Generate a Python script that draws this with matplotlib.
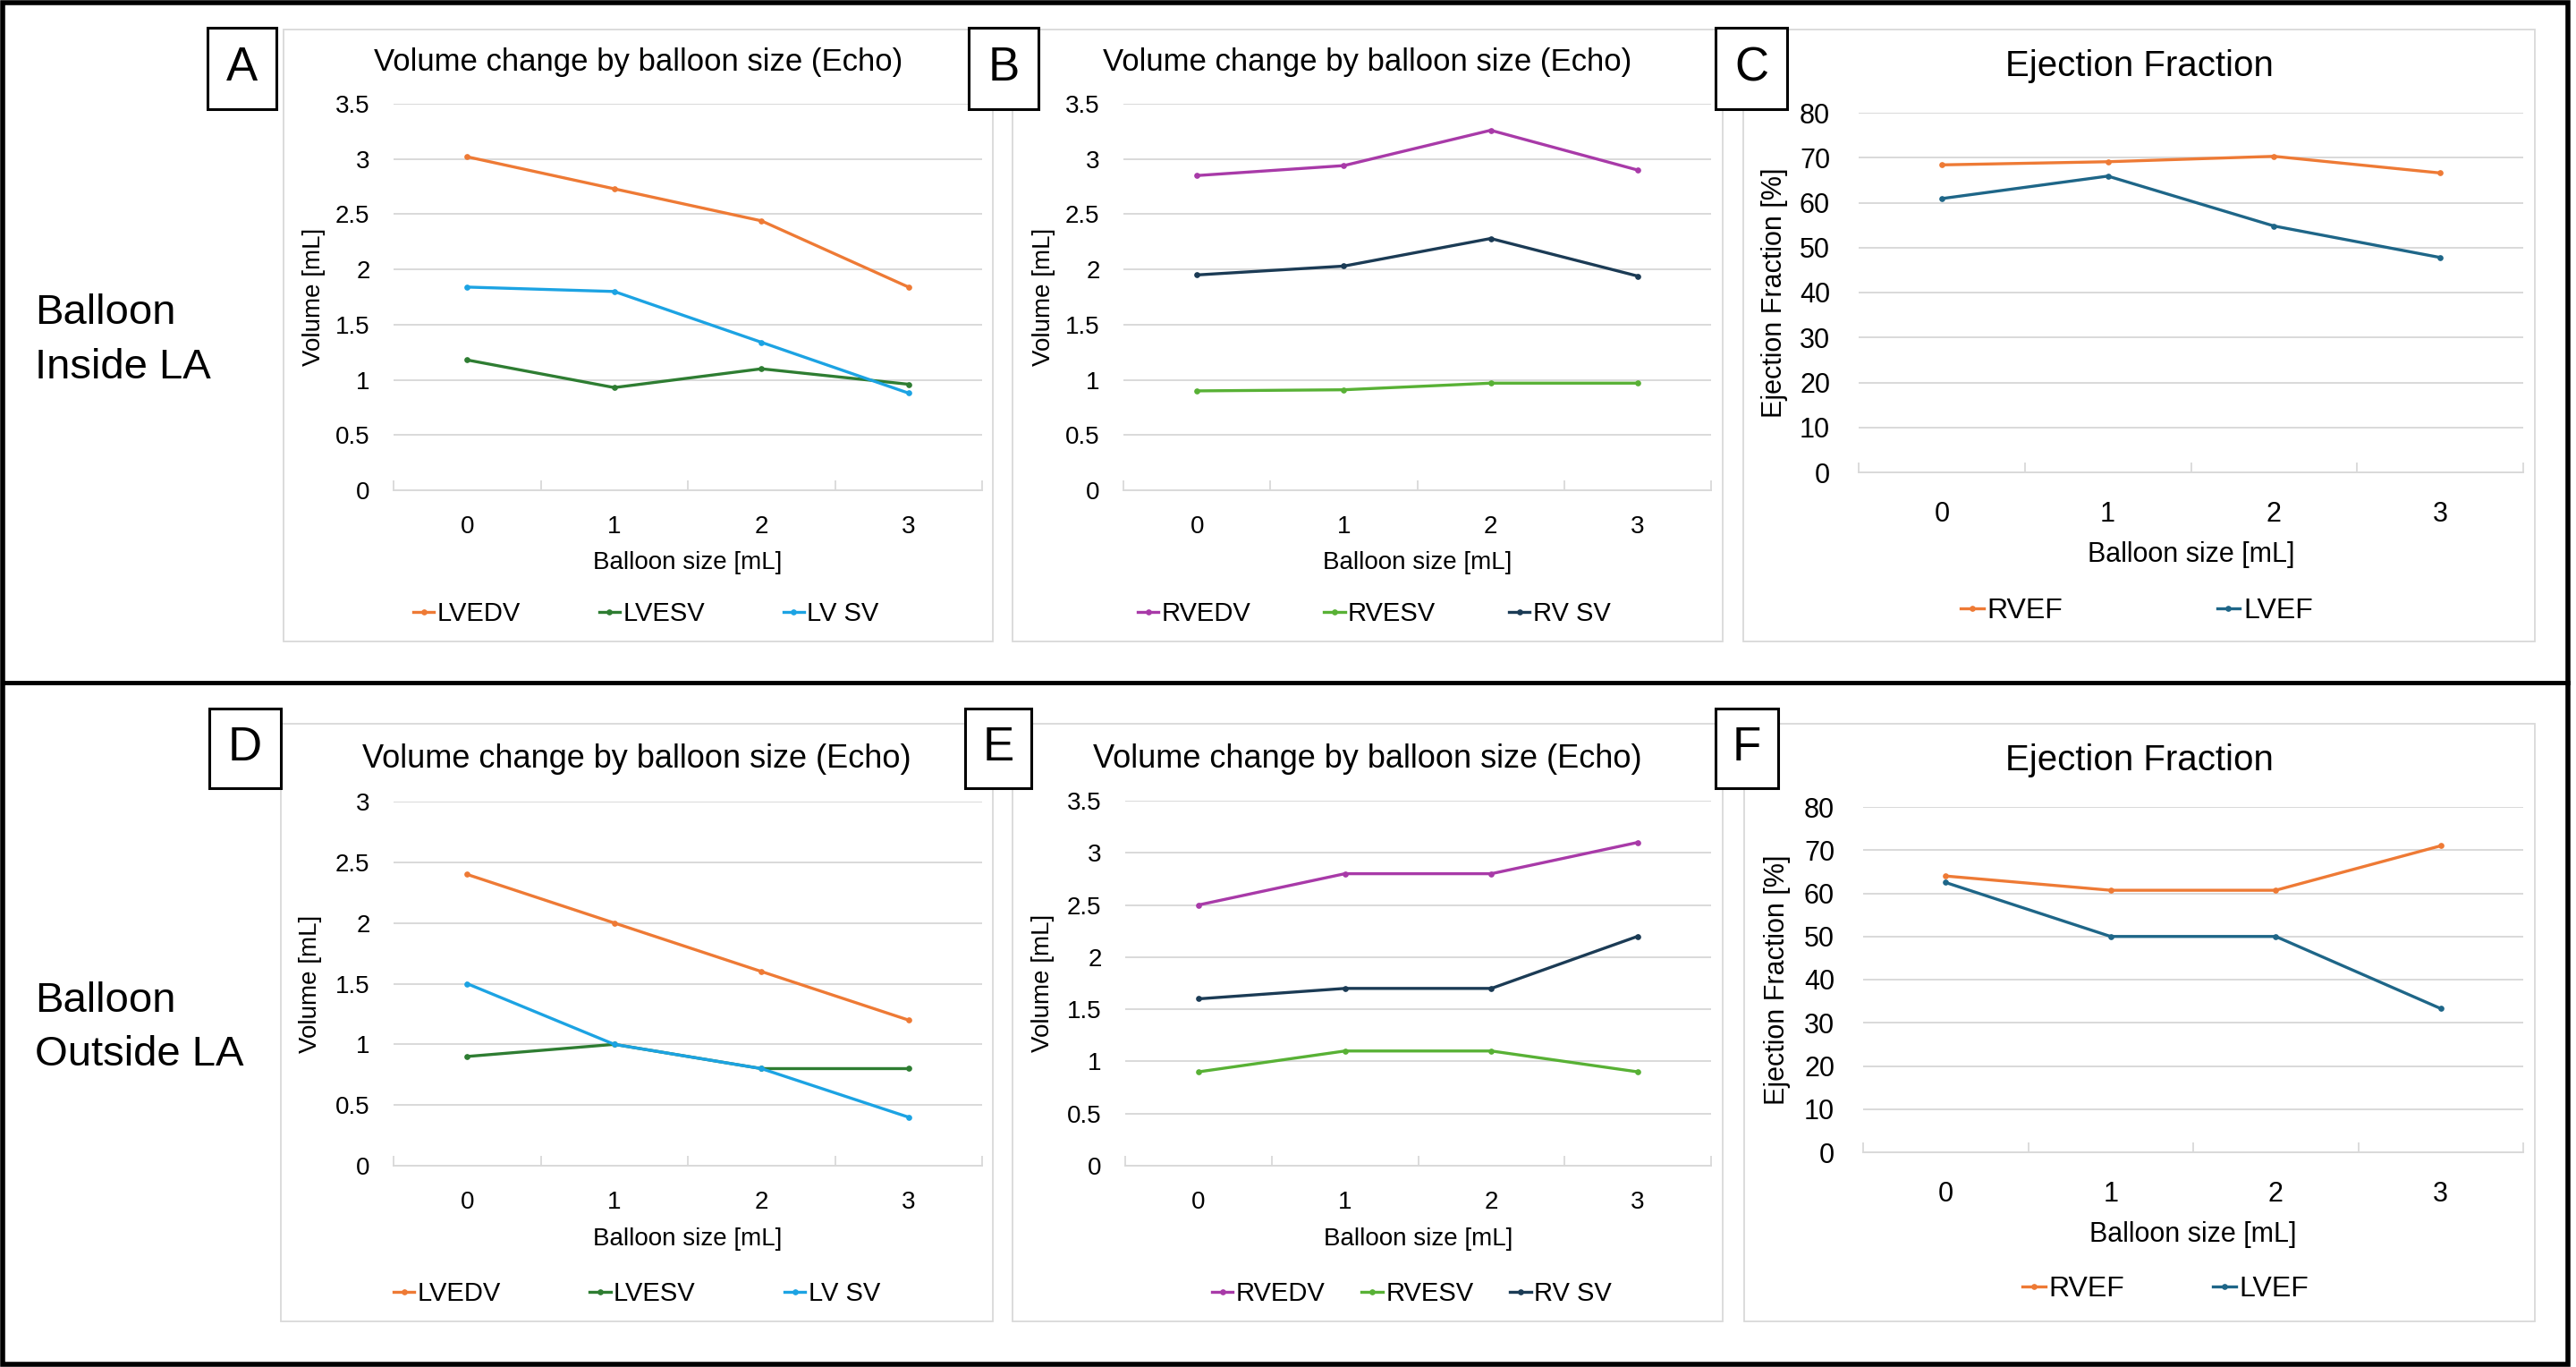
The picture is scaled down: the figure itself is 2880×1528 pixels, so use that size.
"""
Echo volumes and ejection fraction by balloon size, balloon inside / outside LA.
"""

import matplotlib.pyplot as plt
from matplotlib.patches import Rectangle
from matplotlib.lines import Line2D
import numpy as np

plt.rcParams['font.family'] = ['Liberation Sans', 'DejaVu Sans']

W, H = 2880, 1528

balloon_sizes = [0, 1, 2, 3]

# Balloon inside LA
a_lvedv = [3.02, 2.73, 2.44, 1.84]
a_lvesv = [1.18, 0.93, 1.10, 0.96]
a_lvsv = [1.84, 1.80, 1.34, 0.88]
b_rvedv = [2.85, 2.94, 3.26, 2.90]
b_rvesv = [0.90, 0.91, 0.97, 0.97]
b_rvsv = [1.95, 2.03, 2.28, 1.94]
c_rvef = [68.4, 69.1, 70.3, 66.6]
c_lvef = [60.9, 65.9, 54.8, 47.8]

# Balloon outside LA
d_lvedv = [2.4, 2.0, 1.6, 1.2]
d_lvesv = [0.9, 1.0, 0.8, 0.8]
d_lvsv = [1.5, 1.0, 0.8, 0.4]
e_rvedv = [2.5, 2.8, 2.8, 3.1]
e_rvesv = [0.9, 1.1, 1.1, 0.9]
e_rvsv = [1.6, 1.7, 1.7, 2.2]
f_rvef = [64.0, 60.7, 60.7, 71.0]
f_lvef = [62.5, 50.0, 50.0, 33.3]

ORANGE = '#EE7A35'
DKGREEN = '#2E7D32'
SKY = '#1CA3E3'
PURPLE = '#A83AA8'
GREEN = '#58B135'
NAVY = '#1B3B55'
TEAL = '#1E6688'
GRID = '#d9d9d9'

VOL_TITLE = 'Volume change by balloon size (Echo)'
EF_TITLE = 'Ejection Fraction'


def fx(x):
    return x / W


def fy(y):
    return 1 - y / H


fig = plt.figure(figsize=(W / 100, H / 100), dpi=100)


def rect(x0, y0, x1, y1, **kw):
    fig.add_artist(Rectangle((fx(x0), fy(y1)), (x1 - x0) / W, (y1 - y0) / H,
                             transform=fig.transFigure, **kw))


def panel(frame, plot, letter_box, letter, title, title_fs, title_base,
          series, ymax, ystep, ylabel, ylabel_x, xlabel_y, leg_xy, colsp, big=False):
    # light chart frame
    rect(*frame, fill=False, ec=GRID, lw=1.3)

    fs = 22 if big else 20
    ax = fig.add_axes([fx(plot[0]), fy(plot[3]), (plot[2] - plot[0]) / W, (plot[3] - plot[1]) / H])
    x = np.arange(len(balloon_sizes))
    for name, vals, color in series:
        ax.plot(x, vals, color=color, lw=2.4, marker='o', ms=3.8, label=name)

    ax.set_xlim(-0.5, 3.5)
    ax.set_ylim(0, ymax)
    ax.set_yticks(np.arange(0, ymax + ystep / 2, ystep))
    ax.yaxis.set_major_formatter(lambda v, p: f'{v:g}')
    ax.set_xticks(x, [str(b) for b in balloon_sizes])
    ax.set_xticks(np.arange(-0.5, 4, 1), minor=True)
    ax.tick_params(axis='x', which='major', length=0, labelsize=fs, pad=20 if not big else 23)
    ax.tick_params(axis='x', which='minor', direction='in', length=8, color=GRID, width=1.3)
    ax.tick_params(axis='y', length=0, labelsize=fs, pad=19 if not big else 23)
    ax.grid(axis='y', color=GRID, lw=1.4)
    ax.set_axisbelow(True)
    for s in ['top', 'right', 'left']:
        ax.spines[s].set_visible(False)
    ax.spines['bottom'].set_color(GRID)
    ax.spines['bottom'].set_linewidth(1.4)

    cx = (frame[0] + frame[2]) / 2
    fig.text(fx(cx), fy(title_base), title, ha='center', va='baseline', fontsize=title_fs)
    pcx = (plot[0] + plot[2]) / 2
    pcy = (plot[1] + plot[3]) / 2
    fig.text(fx(pcx), fy(xlabel_y), 'Balloon size [mL]', ha='center', va='center', fontsize=fs)
    fig.text(fx(ylabel_x), fy(pcy), ylabel, ha='center', va='center', rotation=90, fontsize=fs)

    ax.legend(loc='center left', bbox_to_anchor=(fx(leg_xy[0]), fy(leg_xy[1])),
              bbox_transform=fig.transFigure, ncol=len(series), frameon=False,
              fontsize=fs + 1, handlelength=0.8, handletextpad=0.12, columnspacing=colsp,
              borderpad=0, borderaxespad=0)

    # letter box on top of the frame
    rect(*letter_box, fc='white', ec='black', lw=2.2, zorder=5)
    fig.text(fx((letter_box[0] + letter_box[2]) / 2), fy((letter_box[1] + letter_box[3]) / 2),
             letter, ha='center', va='center', fontsize=38, zorder=6)
    return ax


panel((317, 33, 1110, 717), (440, 116, 1098, 548), (232, 31, 309, 122), 'A',
      VOL_TITLE, 25, 79,
      [('LVEDV', a_lvedv, ORANGE), ('LVESV', a_lvesv, DKGREEN), ('LV SV', a_lvsv, SKY)],
      3.5, 0.5, 'Volume [mL]', 351, 629, (462, 686), 3.0)
panel((1132, 33, 1926, 717), (1256, 116, 1913, 548), (1083, 31, 1161, 122), 'B',
      VOL_TITLE, 25, 79,
      [('RVEDV', b_rvedv, PURPLE), ('RVESV', b_rvesv, GREEN), ('RV SV', b_rvsv, NAVY)],
      3.5, 0.5, 'Volume [mL]', 1167, 629, (1272, 686), 2.8)
panel((1949, 33, 2834, 717), (2078, 126, 2821, 528), (1918, 31, 1998, 122), 'C',
      EF_TITLE, 29, 85,
      [('RVEF', c_rvef, ORANGE), ('LVEF', c_lvef, TEAL)],
      80, 10, 'Ejection Fraction [%]', 1984, 620, (2192, 683), 5.4, big=True)

panel((314, 809, 1110, 1477), (440, 896, 1098, 1303), (234, 792, 314, 881), 'D',
      VOL_TITLE, 26, 858,
      [('LVEDV', d_lvedv, ORANGE), ('LVESV', d_lvesv, DKGREEN), ('LV SV', d_lvsv, SKY)],
      3, 0.5, 'Volume [mL]', 347, 1385, (440, 1446), 3.4)
panel((1132, 809, 1926, 1477), (1258, 895, 1913, 1303), (1079, 792, 1153, 881), 'E',
      VOL_TITLE, 26, 858,
      [('RVEDV', e_rvedv, PURPLE), ('RVESV', e_rvesv, GREEN), ('RV SV', e_rvsv, NAVY)],
      3.5, 0.5, 'Volume [mL]', 1166, 1385, (1355, 1446), 1.4)
panel((1950, 809, 2834, 1477), (2083, 902, 2821, 1288), (1918, 792, 1988, 881), 'F',
      EF_TITLE, 29, 861,
      [('RVEF', f_rvef, ORANGE), ('LVEF', f_lvef, TEAL)],
      80, 10, 'Ejection Fraction [%]', 1987, 1380, (2261, 1441), 3.1, big=True)

# row labels
fig.text(fx(39), fy(362), 'Balloon', fontsize=34, va='baseline')
fig.text(fx(39), fy(423), 'Inside LA', fontsize=34, va='baseline')
fig.text(fx(39), fy(1131), 'Balloon', fontsize=34, va='baseline')
fig.text(fx(39), fy(1191), 'Outside LA', fontsize=34, va='baseline')

# outer black borders
rect(3, 3, 2871, 1525, fill=False, ec='black', lw=4, zorder=10)
fig.add_artist(Line2D([fx(3), fx(2871)], [fy(763), fy(763)], color='black', lw=3.5,
                      transform=fig.transFigure, zorder=10))

fig.savefig('out.png', dpi=100)
